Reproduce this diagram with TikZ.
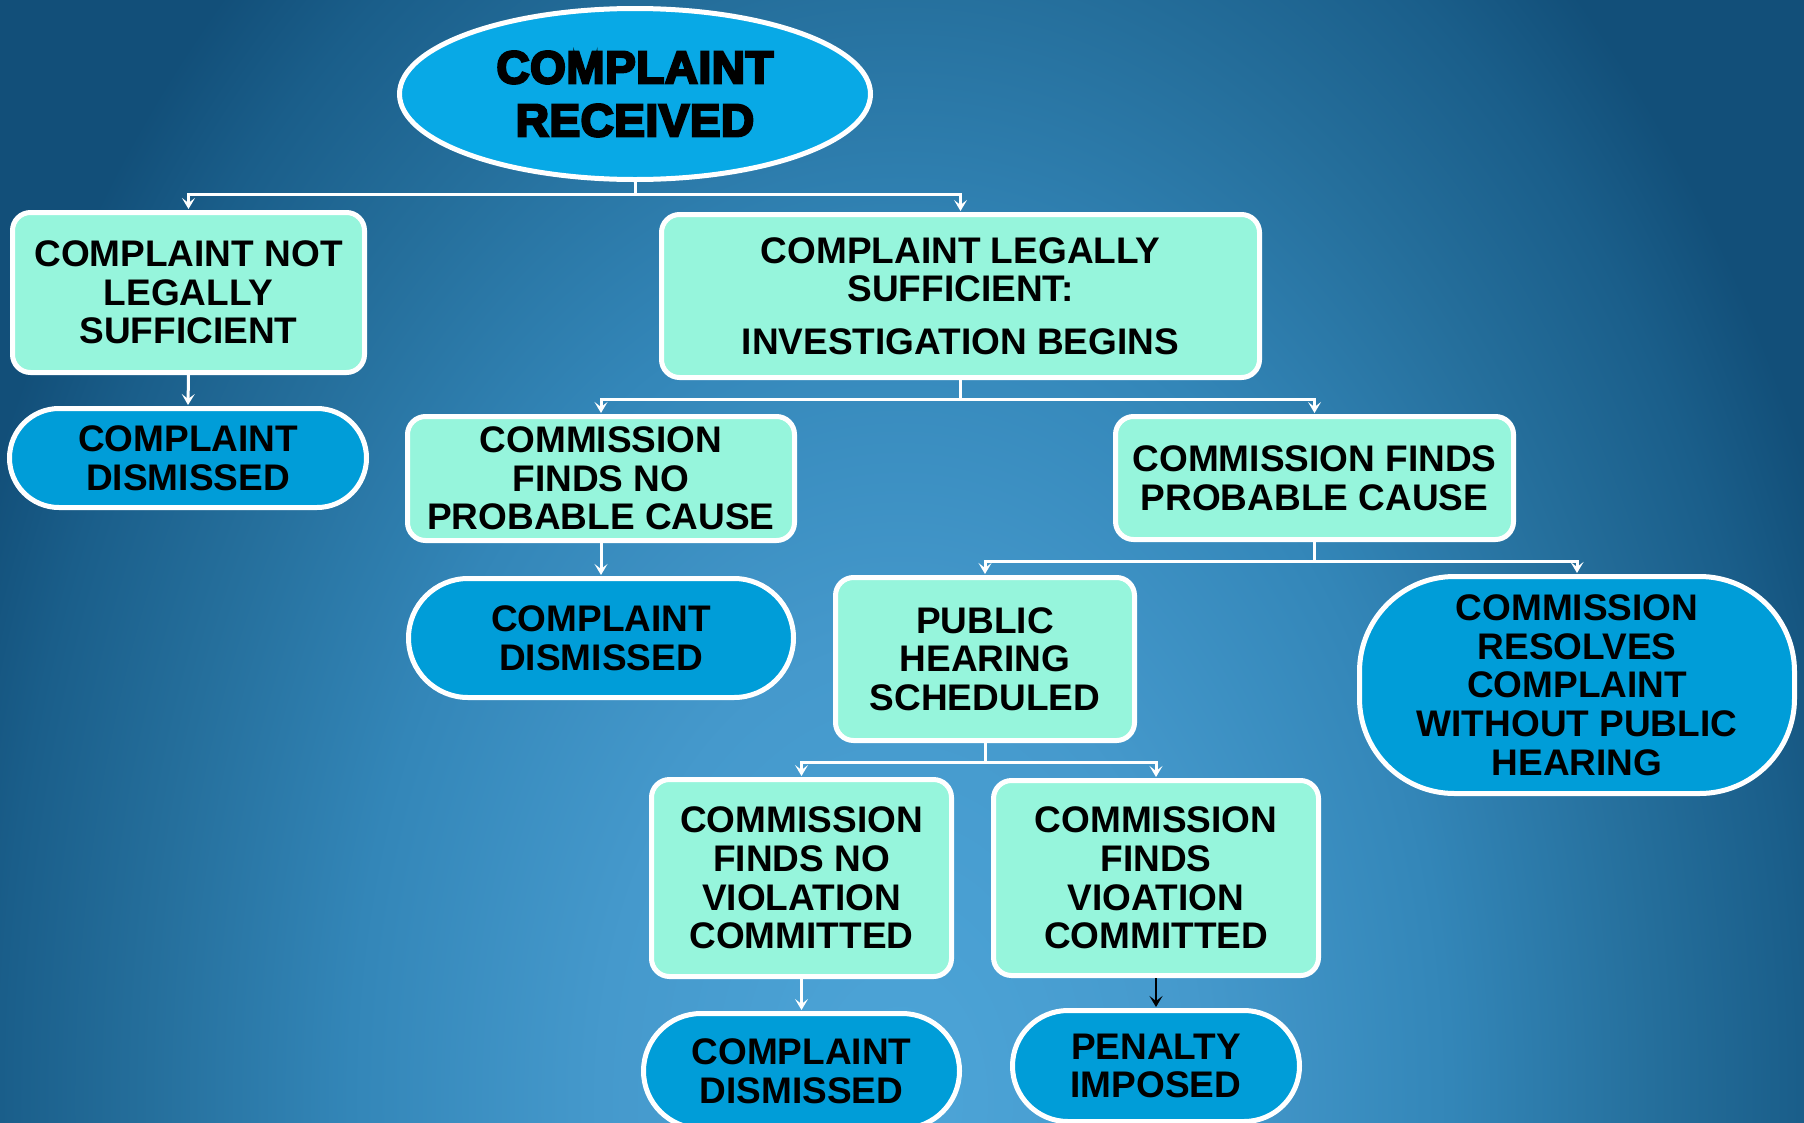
\documentclass[tikz,border=0pt]{standalone}
\usepackage{fontspec}
\setmainfont{Liberation Sans}
\newfontfamily\heavyfont[FakeBold=5,LetterSpace=1]{Liberation Sans Bold}
\usetikzlibrary{arrows.meta,shapes.geometric}

\definecolor{glow0}{HTML}{4DA5D8}
\definecolor{glow1}{HTML}{4599CC}
\definecolor{glow2}{HTML}{3386B8}
\definecolor{glow3}{HTML}{256F9C}
\definecolor{glow4}{HTML}{1A5E8A}
\definecolor{glow5}{HTML}{124F79}
\definecolor{mint}{HTML}{96F5DC}
\definecolor{capsulefill}{HTML}{009DD8}
\definecolor{ovalfill}{HTML}{08A9E6}

% soft light rising from the lower middle of the page
\pgfdeclareradialshading{glow}{\pgfpoint{0bp}{0bp}}{%
  color(0bp)=(glow0); color(3.75bp)=(glow1); color(6.875bp)=(glow2);
  color(9.375bp)=(glow3); color(11.25bp)=(glow4); color(12.5bp)=(glow5);
  color(50bp)=(glow5)}

\tikzset{
  label font/.style={font=\bfseries\fontsize{37}{38.7}\selectfont},
  stepbox/.style={draw=white, line width=5pt, fill=mint, rounded corners=18pt,
    label font, align=center, inner sep=0pt},
  capsule/.style={draw=white, line width=5pt, fill=capsulefill, rounded corners=#1,
    label font, align=center, inner sep=0pt},
  wire/.style={draw=white, line width=3pt},
  flow/.style={wire, -{Stealth[length=11pt,width=13pt,inset=5pt]}, shorten >=1pt},
  darkflow/.style={draw=black, line width=2.5pt, -{Stealth[length=11pt,width=13pt,inset=5pt]}, shorten >=1pt}
}

\begin{document}
\begin{tikzpicture}[x=1pt,y=-1pt]
  \useasboundingbox (0,0) rectangle (1804,1122);
  \clip (0,0) rectangle (1804,1122);

  % background
  \fill[glow5] (0,0) rectangle (1804,1122);
  \fill[shading=glow] (900,1100) ellipse (2000 and 3000);

  % top oval
  \node[ellipse, draw=white, line width=5pt, fill=ovalfill, inner sep=0pt,
        minimum width=471, minimum height=171, align=center,
        font=\heavyfont\fontsize{46}{53}\selectfont] (rec) at (635,94) {COMPLAINT\\RECEIVED};

  % first level
  \node[stepbox, minimum width=352, minimum height=160] (notsuff) at (188.5,292.5)
    {COMPLAINT NOT\\LEGALLY\\SUFFICIENT};
  \node[stepbox, minimum width=598, minimum height=163] (suff) at (960.5,296)
    {COMPLAINT LEGALLY\\SUFFICIENT:\\[14pt]INVESTIGATION BEGINS};
  \node[capsule=49.5pt, minimum width=357, minimum height=99] (dis1) at (188,458)
    {COMPLAINT\\DISMISSED};

  % investigation outcomes
  \node[stepbox, minimum width=387, minimum height=124] (noprob) at (601,478.5)
    {COMMISSION\\FINDS NO\\PROBABLE CAUSE};
  \node[stepbox, minimum width=398, minimum height=123] (prob) at (1314.5,478)
    {COMMISSION FINDS\\PROBABLE CAUSE};
  \node[capsule=59.5pt, minimum width=385, minimum height=119] (dis2) at (601,638)
    {COMPLAINT\\DISMISSED};

  % probable cause outcomes
  \node[stepbox, minimum width=299, minimum height=163] (hear) at (985,659)
    {PUBLIC\\HEARING\\SCHEDULED};
  \node[capsule=95pt, minimum width=435, minimum height=217] (resolve) at (1577,685)
    {COMMISSION\\RESOLVES\\COMPLAINT\\WITHOUT PUBLIC\\HEARING};

  % hearing outcomes
  \node[stepbox, minimum width=300, minimum height=197] (noviol) at (801.5,878)
    {COMMISSION\\FINDS NO\\VIOLATION\\COMMITTED};
  \node[stepbox, minimum width=325, minimum height=195] (viol) at (1156,878)
    {COMMISSION\\FINDS\\VIOATION\\COMMITTED};
  \node[capsule=57.5pt, minimum width=316, minimum height=115] (dis3) at (801.5,1071)
    {COMPLAINT\\DISMISSED};
  \node[capsule=55.5pt, minimum width=287, minimum height=111] (pen) at (1156,1066)
    {PENALTY\\IMPOSED};

  % connectors
  \draw[wire] (rec.south) -- ++(0,12) coordinate (j0);
  \draw[flow] (j0) -| (notsuff.north);
  \draw[flow] (j0) -| (suff.north);
  \draw[flow] (notsuff.south) -- (dis1.north);

  \draw[wire] (suff.south) -- ++(0,19) coordinate (j1);
  \draw[flow] (j1) -| (noprob.north);
  \draw[flow] (j1) -| (prob.north);
  \draw[flow] (noprob.south) -- (dis2.north);

  \draw[wire] (prob.south) -- ++(0,19) coordinate (j2);
  \draw[flow] (j2) -| (hear.north);
  \draw[flow] (j2) -| (resolve.north);

  \draw[wire] (hear.south) -- ++(0,19) coordinate (j3);
  \draw[flow] (j3) -| (noviol.north);
  \draw[flow] (j3) -| (viol.north);
  \draw[flow] (noviol.south) -- (dis3.north);
  \draw[darkflow] (viol.south) -- (pen.north);
\end{tikzpicture}
\end{document}
